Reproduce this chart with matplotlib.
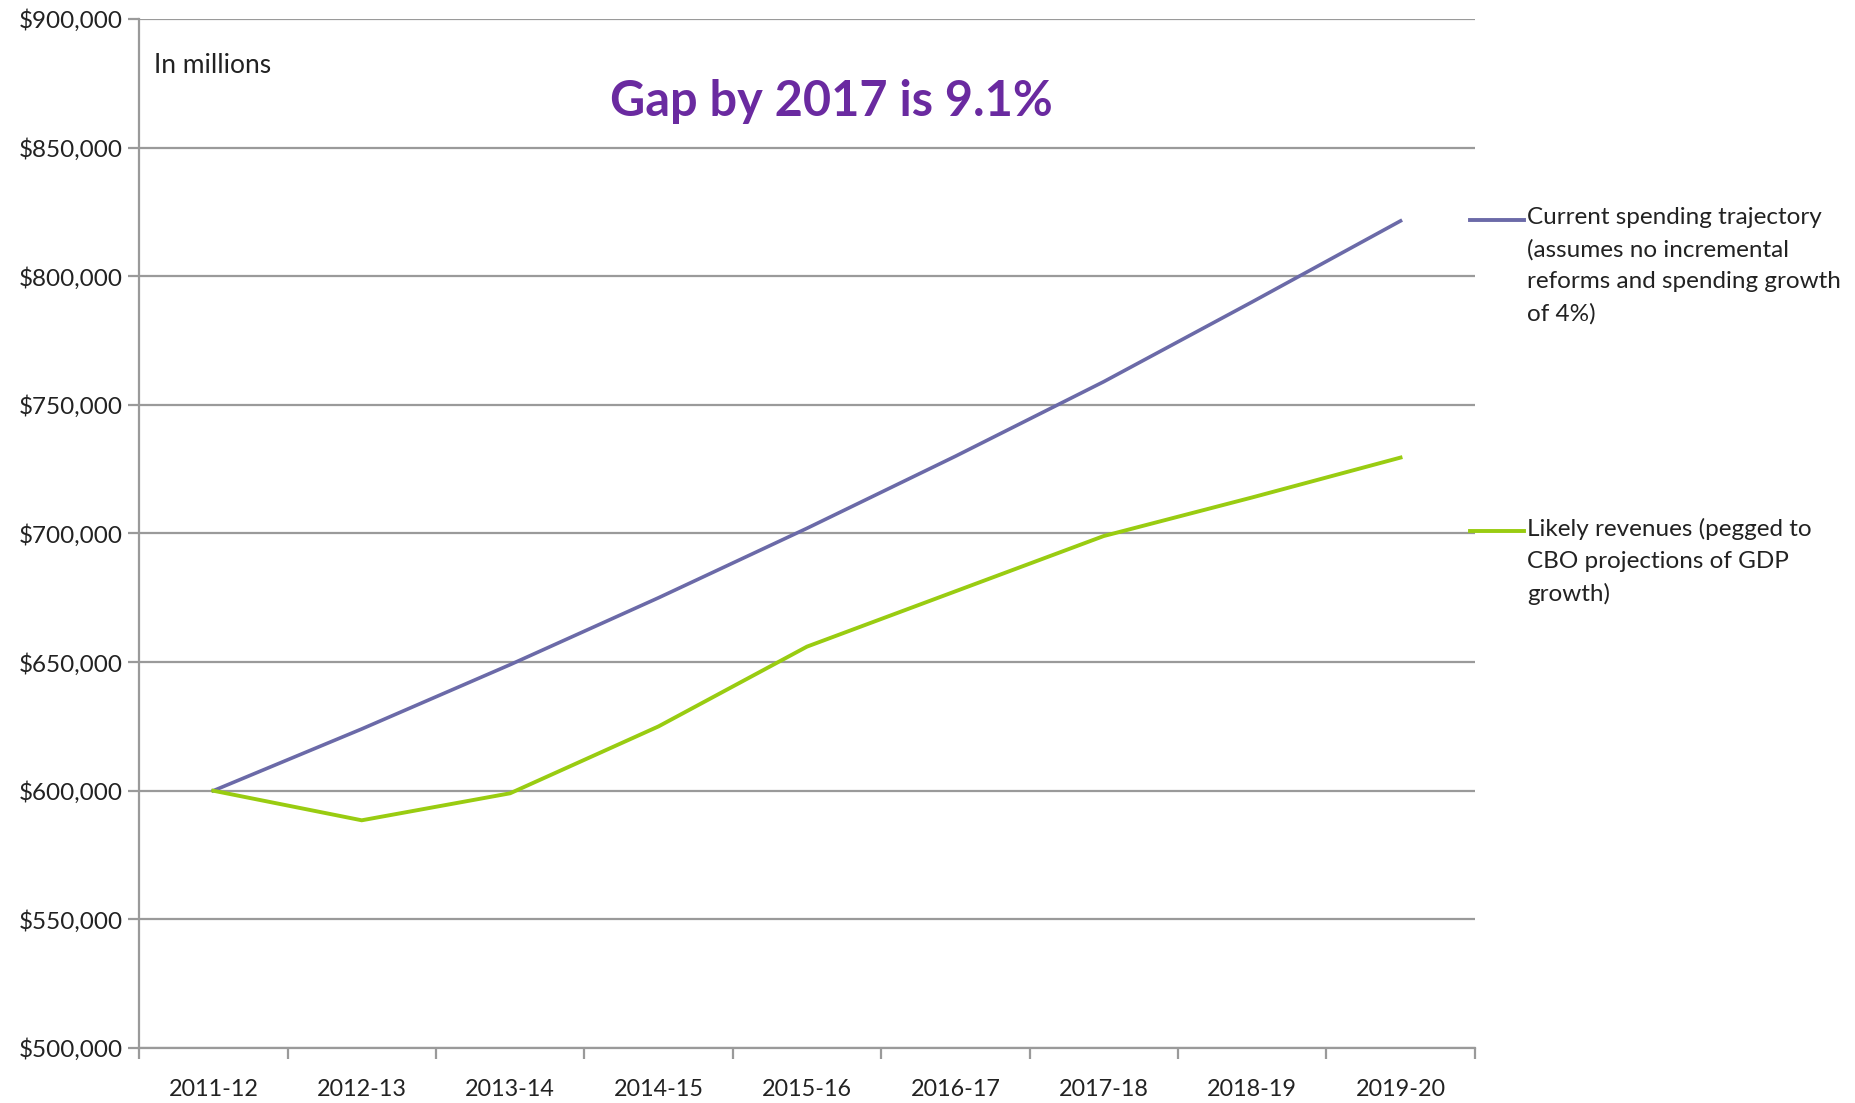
import matplotlib.pyplot as plt
from matplotlib.lines import Line2D
from matplotlib.ticker import FuncFormatter

plt.rcParams['font.family'] = ['Lato', 'DejaVu Sans']

years = ['2011-12', '2012-13', '2013-14', '2014-15', '2015-16',
         '2016-17', '2017-18', '2018-19', '2019-20']
spending = [600000, 624000, 649000, 675000, 702000, 730000, 759000, 790000, 821500]
revenues = [600000, 588500, 599000, 625000, 656000, 677500, 699000, 714000, 729500]

spend_label = 'Current spending trajectory\n(assumes no incremental\nreforms and spending growth\nof 4%)'
rev_label = 'Likely revenues (pegged to\nCBO projections of GDP\ngrowth)'

spend_color = '#6b6aa8'
rev_color = '#99cc11'
grid_color = '#9a9a9a'

fig = plt.figure(figsize=(18.55, 11.03), dpi=100)
ax = fig.add_axes([0.075, 0.0499, 0.72, 0.9329])

x = list(range(len(years)))
ax.plot(x, spending, color=spend_color, lw=2.6, solid_joinstyle='miter')
ax.plot(x, revenues, color=rev_color, lw=2.8, solid_joinstyle='miter')

ax.set_xlim(-0.5, len(years) - 0.5)
ax.set_ylim(500000, 900000)
ax.set_yticks(range(500000, 900001, 50000))
ax.yaxis.set_major_formatter(FuncFormatter(lambda v, p: f'${v:,.0f}'))
ax.grid(axis='y', color=grid_color, lw=1.6)
ax.set_axisbelow(True)

ax.set_xticks(x)
ax.set_xticklabels(years)
ax.set_xticks([i - 0.5 for i in range(len(years) + 1)], minor=True)
ax.tick_params(axis='x', which='major', length=0, pad=22, labelsize=16.8, colors='#222222')
ax.tick_params(axis='x', which='minor', length=8, width=1.6, color=grid_color)
ax.tick_params(axis='y', length=8, width=1.6, color=grid_color, labelsize=17.5,
               labelcolor='#222222', pad=4)

for s in ['top', 'right']:
    ax.spines[s].set_visible(False)
for s in ['left', 'bottom']:
    ax.spines[s].set_color(grid_color)
    ax.spines[s].set_linewidth(1.6)

ax.text(0.011, 0.955, 'In millions', transform=ax.transAxes, fontsize=19,
        color='#222222', va='center')
ax.text(0.518, 0.92, 'Gap by 2017 is 9.1%', transform=ax.transAxes, fontsize=35,
        fontweight='bold', color='#6a2aa0', ha='center', va='center')

# legend drawn beside the plot
for lbl, col, ytop in [(spend_label, spend_color, 1 - 220 / 1103),
                       (rev_label, rev_color, 1 - 531 / 1103)]:
    fig.add_artist(Line2D([1470 / 1855, 1524 / 1855], [ytop, ytop], color=col, lw=2.8))
    fig.text(1527 / 1855, ytop + 0.0115, lbl, fontsize=17.5, color='#222222',
             va='top', ha='left', linespacing=1.62)

fig.savefig('out.png', dpi=100, facecolor='white')
